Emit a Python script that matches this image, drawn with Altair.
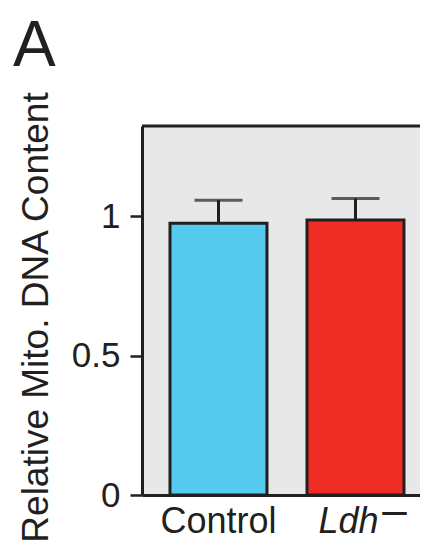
import altair as alt
import pandas as pd

# ---- data ----
categories = ["Control", "Ldh"]
means = [0.975, 0.987]
errors = [0.083, 0.077]
colors = ["#55cbf0", "#ee2e24"]
y_ticks = [0, 0.5, 1]
y_title = "Relative Mito. DNA Content"
panel_label = ["A"]
sup_categories = ["Ldh"]
sup_texts = ["–"]

df = pd.DataFrame({"cat": categories, "mean": means, "err": errors})
df["upper"] = df["mean"] + df["err"]

W, H = 278, 369
FONT = "Liberation Sans"
INK = "#231f20"

xscale = alt.Scale(domain=categories, paddingInner=0.292, paddingOuter=0.1606, align=0.636)
xaxis = alt.Axis(
    title=None, ticks=False, labelFontSize=36, labelPadding=9, labelAngle=0,
    domainWidth=3,
    labelFontStyle={"condition": {"test": "datum.value == 'Ldh'", "value": "italic"}, "value": "normal"},
    labelOffset={"condition": {"test": "datum.value == 'Ldh'", "value": -7}, "value": 0},
)
yscale = alt.Scale(domain=[0, 1.324], nice=False)
yaxis = alt.Axis(
    values=y_ticks, format="~g", grid=False, title=y_title,
    titleFontSize=37, titleFontWeight="normal", titleAngle=270,
    titleX=-95, titleY=191, titleAlign="center", titleBaseline="alphabetic",
    labelFontSize=35, labelPadding=10, tickSize=12, tickWidth=2.5, domainWidth=3,
)

base = alt.Chart(df)
x = alt.X("cat:N", scale=xscale, axis=xaxis, sort=categories)

bars = base.mark_bar(stroke=INK, strokeWidth=3).encode(
    x=x,
    y=alt.Y("mean:Q", scale=yscale, axis=yaxis),
    color=alt.Color("cat:N", scale=alt.Scale(domain=categories, range=colors), legend=None),
)
stems = base.mark_rule(strokeWidth=3, color=INK).encode(
    x=x, y=alt.Y("mean:Q", scale=yscale), y2="upper:Q"
)
caps = base.mark_tick(size=48, thickness=3, color=INK).encode(
    x=x, y=alt.Y("upper:Q", scale=yscale)
)
top_border = alt.Chart(pd.DataFrame({"k": [0]})).mark_rule(strokeWidth=3, color=INK).encode(
    x=alt.value(0), x2=alt.value(W), y=alt.value(0)
)
panel = alt.Chart(pd.DataFrame({"t": panel_label})).mark_text(
    fontSize=64, align="left", baseline="alphabetic", font=FONT, color=INK
).encode(text="t:N", x=alt.value(-129), y=alt.value(-60))
sup = alt.Chart(pd.DataFrame({"cat": sup_categories, "t": sup_texts})).mark_text(
    fontSize=44, align="center", baseline="alphabetic", font=FONT, color=INK, dx=39
).encode(x=x, text="t:N", y=alt.value(399))

chart = alt.layer(bars, stems, caps, top_border, panel, sup).properties(
    width=W, height=H,
    autosize=alt.AutoSizeParams(type="none"),
    padding={"left": 134, "top": 118, "right": 0, "bottom": 49},
).configure_view(
    fill="#e8e8e8", stroke="transparent"
).configure_axis(
    labelFont=FONT, titleFont=FONT, labelColor=INK, titleColor=INK,
    tickColor=INK, domainColor=INK,
)

chart.save("out.html", embed_options={"renderer": "svg", "actions": False})
